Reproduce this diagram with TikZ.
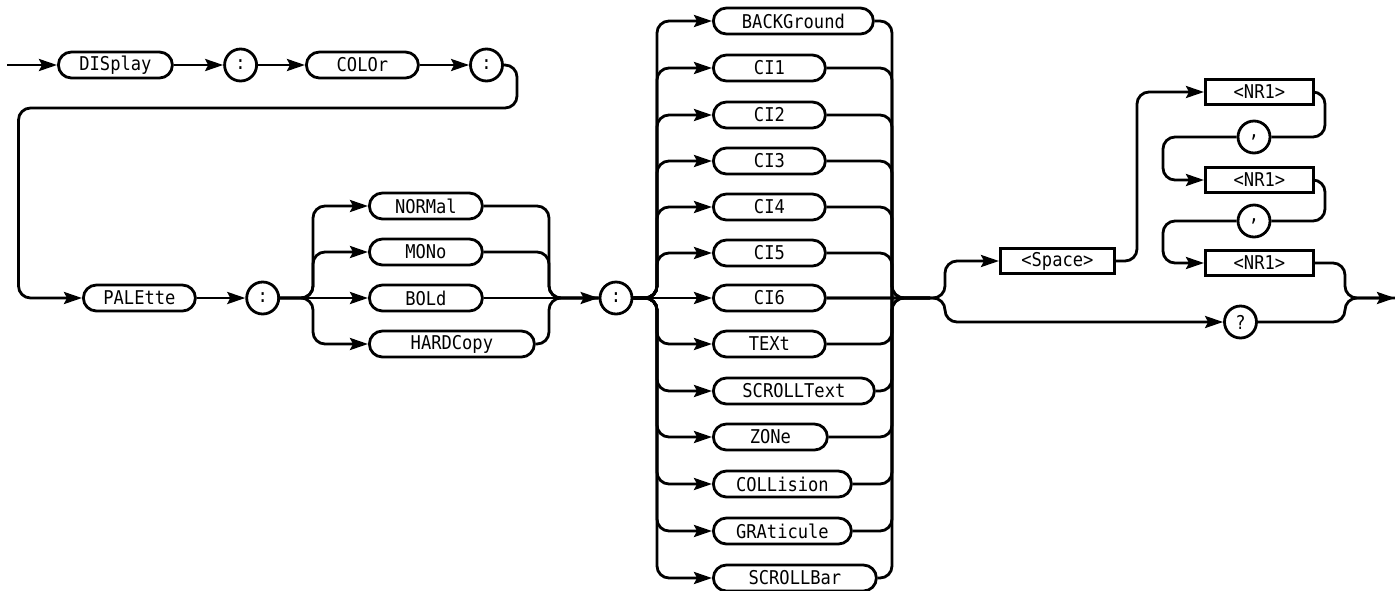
\documentclass[tikz,border=0pt]{standalone}
\usepackage{fontspec}
\setmonofont[FakeStretch=0.9]{DejaVu Sans Mono}
\usetikzlibrary{positioning, arrows.meta}

\begin{document}
\begin{tikzpicture}[x=1pt, y=-1pt, line width=2.8pt,
  font=\ttfamily\fontsize{19}{20}\selectfont,
  kw/.style={draw, rounded corners=13pt, minimum height=26pt, inner sep=0pt, anchor=west},
  arg/.style={draw, minimum height=25pt, inner sep=0pt, anchor=west},
  sym/.style={draw, circle, minimum size=32pt, inner sep=0pt},
  rail/.style={rounded corners=12pt},
  go/.style={-{Stealth[length=18pt, width=12pt, inset=3pt]}}]
  \useasboundingbox (0,0) rectangle (1395,590);

  % header keywords
  \coordinate (start) at (7,65);
  \node[kw, minimum width=114pt] (display) at (57,65) {DISplay};
  \node[sym] (colA) at (240.6,65) {:};
  \node[kw, minimum width=112pt] (color) at (305,65) {COLOr};
  \node[sym] (colB) at (486.5,65) {:};
  \node[kw, minimum width=112pt] (palette) at (82,298) {PALEtte};
  \node[sym] (colC) at (262.7,298) {:};

  % palette choices
  \node[kw, minimum width=113pt] (normal) at (368,206) {NORMal};
  \node[kw, minimum width=113pt] (mono) at (368,252) {MONo};
  \node[kw, minimum width=113pt] (bold) at (368,298) {BOLd};
  \node[kw, minimum width=165pt] (hardcopy) at (368,344) {HARDCopy};
  \node[sym] (colD) at (616,298) {:};

  % colour items
  \node[kw, minimum width=160pt] (backg) at (712,21) {BACKGround};
  \node[kw, minimum width=112pt] (ciA) at (712,68) {CI1};
  \node[kw, minimum width=112pt] (ciB) at (712,115) {CI2};
  \node[kw, minimum width=112pt] (ciC) at (712,161) {CI3};
  \node[kw, minimum width=112pt] (ciD) at (712,207) {CI4};
  \node[kw, minimum width=112pt] (ciE) at (712,253) {CI5};
  \node[kw, minimum width=112pt] (ciF) at (712,298) {CI6};
  \node[kw, minimum width=112pt] (text) at (712,344) {TEXt};
  \node[kw, minimum width=161pt] (scrtext) at (712,391) {SCROLLText};
  \node[kw, minimum width=114pt] (zone) at (712,437) {ZONe};
  \node[kw, minimum width=138pt] (collision) at (712,484) {COLLision};
  \node[kw, minimum width=138pt] (graticule) at (712,531) {GRAticule};
  \node[kw, minimum width=163pt] (scrbar) at (712,578) {SCROLLBar};

  % arguments
  \node[arg, minimum width=114pt] (space) at (999,261) {<Space>};
  \node[arg, minimum width=108pt] (nrA) at (1204,92) {<NR1>};
  \node[sym] (comA) at (1254,137) {,};
  \node[arg, minimum width=108pt] (nrB) at (1204,180) {<NR1>};
  \node[sym] (comB) at (1254,221) {,};
  \node[arg, minimum width=108pt] (nrC) at (1204,263) {<NR1>};
  \node[sym] (query) at (1240.5,322) {?};
  \coordinate (stop) at (1395,298);

  % first line and return
  \draw[go] (start) -- (display);
  \draw[go] (display) -- (colA);
  \draw[go] (colA) -- (color);
  \draw[go] (color) -- (colB);
  \draw[go, rail] (colB.east) -- (517,65) -- (517,108) -- (18.5,108) -- (18.5,298) -- (palette.west);
  \draw[go] (palette) -- (colC);

  % palette fan
  \draw[go] (colC) -- (bold);
  \draw[go, rail] (colC.east) -- (313,298) -- (313,206) -- (normal.west);
  \draw[go, rail] (colC.east) -- (313,298) -- (313,252) -- (mono.west);
  \draw[go, rail] (colC.east) -- (313,298) -- (313,344) -- (hardcopy.west);
  \draw[go] (bold) -- (colD);
  \draw[rail] (normal.east) -- (549,206) -- (549,298) -- (colD.west);
  \draw[rail] (mono.east) -- (549,252) -- (549,298) -- (colD.west);
  \draw[rail] (hardcopy.east) -- (549,344) -- (549,298) -- (colD.west);

  % colour fan
  \draw[go] (colD) -- (ciF);
  \draw[go, rail] (colD.east) -- (657,298) -- (657,21) -- (backg.west);
  \draw[go, rail] (colD.east) -- (657,298) -- (657,68) -- (ciA.west);
  \draw[go, rail] (colD.east) -- (657,298) -- (657,115) -- (ciB.west);
  \draw[go, rail] (colD.east) -- (657,298) -- (657,161) -- (ciC.west);
  \draw[go, rail] (colD.east) -- (657,298) -- (657,207) -- (ciD.west);
  \draw[go, rail] (colD.east) -- (657,298) -- (657,253) -- (ciE.west);
  \draw[go, rail] (colD.east) -- (657,298) -- (657,344) -- (text.west);
  \draw[go, rail] (colD.east) -- (657,298) -- (657,391) -- (scrtext.west);
  \draw[go, rail] (colD.east) -- (657,298) -- (657,437) -- (zone.west);
  \draw[go, rail] (colD.east) -- (657,298) -- (657,484) -- (collision.west);
  \draw[go, rail] (colD.east) -- (657,298) -- (657,531) -- (graticule.west);
  \draw[go, rail] (colD.east) -- (657,298) -- (657,578) -- (scrbar.west);
  \draw[rail] (backg.east) -- (892,21) -- (892,298) -- (930,298);
  \draw[rail] (ciA.east) -- (892,68) -- (892,298);
  \draw[rail] (ciB.east) -- (892,115) -- (892,298);
  \draw[rail] (ciC.east) -- (892,161) -- (892,298);
  \draw[rail] (ciD.east) -- (892,207) -- (892,298);
  \draw[rail] (ciE.east) -- (892,253) -- (892,298) -- (930,298);
  \draw[rail] (text.east) -- (892,344) -- (892,298) -- (930,298);
  \draw[rail] (scrtext.east) -- (892,391) -- (892,298);
  \draw[rail] (zone.east) -- (892,437) -- (892,298);
  \draw[rail] (collision.east) -- (892,484) -- (892,298);
  \draw[rail] (graticule.east) -- (892,531) -- (892,298);
  \draw[rail] (scrbar.east) -- (892,578) -- (892,298) -- (930,298);

  % value part
  \draw[go, rail] (ciF.east) -- (945,298) -- (945,261) -- (space.west);
  \draw[go, rail] (ciF.east) -- (945,298) -- (945,322) -- (query.west);
  \draw[go, rail] (space.east) -- (1137,261) -- (1137,92) -- (nrA.west);
  \draw[rail] (nrA.east) -- (1325,92) -- (1325,137) -- (comA.east);
  \draw[go, rail] (comA.west) -- (1163,137) -- (1163,180) -- (nrB.west);
  \draw[rail] (nrB.east) -- (1325,180) -- (1325,221) -- (comB.east);
  \draw[go, rail] (comB.west) -- (1163,221) -- (1163,263) -- (nrC.west);
  \draw[go, rail] (nrC.east) -- (1345,263) -- (1345,298) -- (stop);
  \draw[rail] (query.east) -- (1345,322) -- (1345,298) -- (stop);
\end{tikzpicture}
\end{document}
